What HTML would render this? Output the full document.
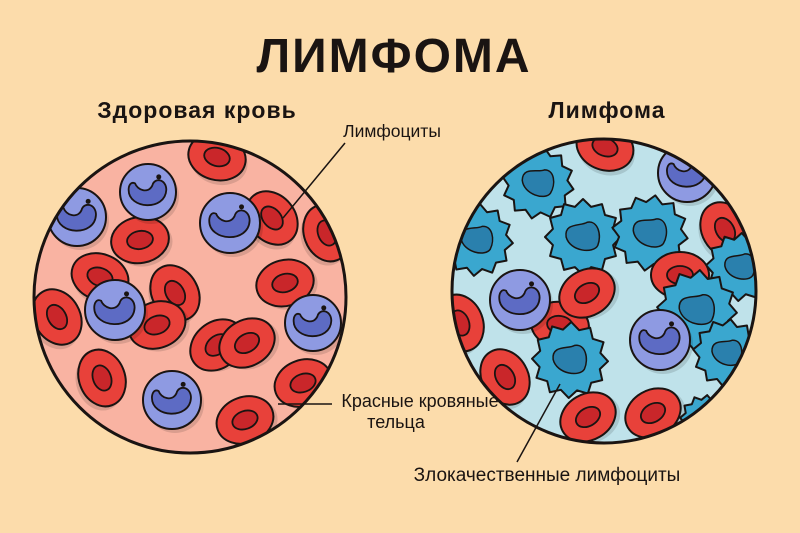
<!DOCTYPE html>
<html><head><meta charset="utf-8"><style>
body{margin:0;width:800px;height:533px;background:#fcdcab;overflow:hidden}
svg{display:block}
text{font-family:"Liberation Sans","DejaVu Sans",sans-serif;fill:#1a1412}
</style></head><body>
<svg id="s" width="800" height="533" viewBox="0 0 800 533">
<defs>
<clipPath id="cl"><circle cx="190" cy="297" r="156"/></clipPath>
<clipPath id="cr"><circle cx="604" cy="291" r="152"/></clipPath>
</defs>
<text x="394" y="72" font-size="48" font-weight="bold" text-anchor="middle" letter-spacing="2">ЛИМФОМА</text>
<text x="197" y="118" font-size="23" font-weight="bold" text-anchor="middle" letter-spacing="1">Здоровая кровь</text>
<text x="607" y="118" font-size="23" font-weight="bold" text-anchor="middle" letter-spacing="1">Лимфома</text>
<circle cx="190" cy="297" r="156" fill="#f9b3a2"/>
<g id="L" clip-path="url(#cl)"></g>
<circle cx="190" cy="297" r="156" fill="none" stroke="#1a1412" stroke-width="3"/>
<circle cx="604" cy="291" r="152" fill="#bfe2ea"/>
<g id="R" clip-path="url(#cr)"></g>
<circle cx="604" cy="291" r="152" fill="none" stroke="#1a1412" stroke-width="3"/>
<text x="392" y="137" font-size="17.5" text-anchor="middle">Лимфоциты</text>
<line x1="345" y1="143" x2="283" y2="218" stroke="#1a1412" stroke-width="1.5"/>
<text x="420" y="407" font-size="18" text-anchor="middle">Красные кровяные</text>
<text x="396" y="428" font-size="18" text-anchor="middle">тельца</text>
<line x1="332" y1="404" x2="278" y2="404" stroke="#1a1412" stroke-width="1.5"/>
<text x="547" y="481" font-size="19" text-anchor="middle">Злокачественные лимфоциты</text>
<line x1="517" y1="462" x2="560" y2="384" stroke="#1a1412" stroke-width="1.5"/>
</svg>
<script>
var NS="http://www.w3.org/2000/svg";
function el(p,t,a){var e=document.createElementNS(NS,t);for(var k in a)e.setAttribute(k,a[k]);p.appendChild(e);return e;}
function red(p,x,y,rot,s){s=s||1;var g=el(p,"g",{transform:"translate("+x+","+y+") rotate("+rot+") scale("+s+")"});
el(g,"ellipse",{cx:3,cy:4,rx:29,ry:23,fill:"#000",opacity:.12});
el(g,"ellipse",{cx:0,cy:0,rx:29,ry:23,fill:"#e8413a",stroke:"#1a1412","stroke-width":2});
el(g,"ellipse",{cx:0,cy:0,rx:13,ry:9,fill:"#c9262a",stroke:"#1a1412","stroke-width":1.8});}
function blue(p,x,y,r){var g=el(p,"g",{transform:"translate("+x+","+y+")"});
el(g,"circle",{cx:3,cy:4,r:r,fill:"#000",opacity:.12});
el(g,"circle",{cx:0,cy:0,r:r,fill:"#8e9ae2",stroke:"#1a1412","stroke-width":2});
var k=r/26;
el(g,"path",{d:"M"+(-18*k)+","+(-2*k)+" C"+(-18*k)+","+(16*k)+" "+(16*k)+","+(18*k)+" "+(17*k)+","+(-2*k)+" C"+(17*k)+","+(-12*k)+" "+(6*k)+","+(-14*k)+" "+(4*k)+","+(-6*k)+" C"+(0)+","+(2*k)+" "+(-10*k)+","+(-2*k)+" "+(-12*k)+","+(-8*k)+" C"+(-16*k)+","+(-10*k)+" "+(-18*k)+","+(-6*k)+" "+(-18*k)+","+(-2*k)+"Z",fill:"#5d6bc4",stroke:"#1a1412","stroke-width":1.8});
el(g,"circle",{cx:10*k,cy:-14*k,r:2.5,fill:"#1a1412"});}
function cancer(p,x,y,r,rot){var g=el(p,"g",{transform:"translate("+x+","+y+") rotate("+rot+")"});
var pts=[],n=12;for(var i=0;i<n*2;i++){var a=Math.PI*i/n,rr=i%2?r*0.82:r;pts.push((rr*Math.cos(a)).toFixed(1)+","+(rr*Math.sin(a)).toFixed(1));}
el(g,"polygon",{points:pts.join(" "),fill:"#3aa7cf",stroke:"#1a1412","stroke-width":2,"stroke-linejoin":"round"});
var k=r/36;
el(g,"path",{d:"M"+(-16*k)+","+(0)+" C"+(-18*k)+","+(-14*k)+" "+(-2*k)+","+(-10*k)+" "+(4*k)+","+(-14*k)+" C"+(14*k)+","+(-16*k)+" "+(18*k)+","+(-2*k)+" "+(14*k)+","+(8*k)+" C"+(10*k)+","+(16*k)+" "+(-12*k)+","+(14*k)+" "+(-16*k)+",0Z",fill:"#2a80ad",stroke:"#1a1412","stroke-width":1.5});}
var L=document.getElementById("L"),R=document.getElementById("R");
red(L,217,157,15);red(L,140,240,-10);blue(L,77,217,29);blue(L,148,192,28);
red(L,327,233,70);red(L,272,218,50);blue(L,230,223,30);
red(L,100,277,20);red(L,175,293,60);red(L,157,325,-20);red(L,57,317,60);blue(L,115,310,30);
red(L,285,283,-15);blue(L,313,323,28);red(L,217,345,-40);red(L,247,343,-30);
red(L,102,378,70);blue(L,172,400,29);red(L,303,383,-20);red(L,245,420,-20);
red(R,605,147,20);blue(R,687,173,29);red(R,725,230,60);
cancer(R,477,240,36,5);cancer(R,538,183,36,10);cancer(R,583,237,38,0);cancer(R,650,233,38,8);cancer(R,740,267,34,3);
red(R,680,275,0);red(R,560,325,10);red(R,587,293,-30);blue(R,520,300,30);
cancer(R,697,310,40,4);blue(R,660,340,30);cancer(R,727,353,34,6);
red(R,460,323,70);cancer(R,570,360,38,2);red(R,505,377,60);
red(R,588,417,-30);red(R,653,413,-30);cancer(R,705,420,25,5);
</script>
</body></html>
